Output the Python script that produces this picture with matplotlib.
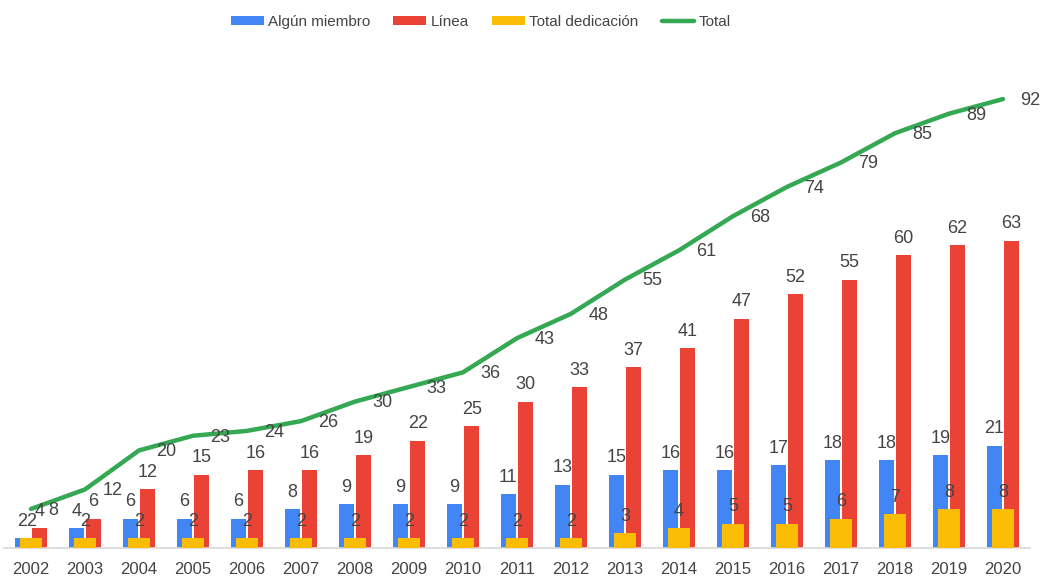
import matplotlib
matplotlib.use("Agg")
import matplotlib.pyplot as plt
import numpy as np

plt.rcParams['font.family'] = ['Liberation Sans', 'DejaVu Sans']

years = [str(y) for y in range(2002, 2021)]
algun_miembro = [2, 4, 6, 6, 6, 8, 9, 9, 9, 11, 13, 15, 16, 16, 17, 18, 18, 19, 21]
linea = [4, 6, 12, 15, 16, 16, 19, 22, 25, 30, 33, 37, 41, 47, 52, 55, 60, 62, 63]
total_dedicacion = [2, 2, 2, 2, 2, 2, 2, 2, 2, 2, 2, 3, 4, 5, 5, 6, 7, 8, 8]
total = [8, 12, 20, 23, 24, 26, 30, 33, 36, 43, 48, 55, 61, 68, 74, 79, 85, 89, 92]

c_blue = '#4285F4'
c_red = '#EA4335'
c_yellow = '#FBBC04'
c_green = '#34A853'
txt = '#444444'

W, H = 1042, 576
fig = plt.figure(figsize=(W / 100, H / 100), dpi=100)
ax = fig.add_axes([4 / W, 28 / H, 1026 / W, 488 / H])

x = np.arange(len(years))
bw = 0.265
off = 0.16
b1 = ax.bar(x - off, algun_miembro, bw, color=c_blue, label='Algún miembro', zorder=2)
b2 = ax.bar(x + off, linea, bw, color=c_red, label='Línea', zorder=2)
b3 = ax.bar(x, total_dedicacion, 0.41, color=c_yellow, label='Total dedicación', zorder=3)
ln, = ax.plot(x, total, color=c_green, lw=3.2, label='Total', zorder=4, solid_capstyle='round')

fs = 13
for bars, vals in ((b1, algun_miembro), (b2, linea), (b3, total_dedicacion)):
    for r, v in zip(bars, vals):
        ax.annotate(str(v), (r.get_x() + r.get_width() / 2, v), xytext=(0, 6),
                    textcoords='offset points', ha='center', va='bottom',
                    fontsize=fs, color=txt, zorder=5)
for xi, v in zip(x, total):
    ax.annotate(str(v), (xi, v), xytext=(12.5, -1), textcoords='offset points',
                ha='left', va='center', fontsize=fs, color=txt, zorder=5)

ax.set_xlim(-0.5, 18.5)
ax.set_ylim(0, 100)
ax.set_xticks(x)
ax.set_xticklabels(years, fontsize=12, color=txt)
ax.tick_params(axis='x', length=0, pad=10)
ax.set_yticks([])
for s in ('top', 'right', 'left'):
    ax.spines[s].set_visible(False)
ax.spines['bottom'].set_color('#d9d9d9')
ax.spines['bottom'].set_linewidth(1.2)

leg = fig.legend(handles=[b1, b2, b3, ln], loc='center', bbox_to_anchor=(481 / W, 1 - 22 / H),
                 ncol=4, frameon=False, fontsize=11, handlelength=2.15, handleheight=0.55,
                 handletextpad=0.3, columnspacing=1.5)
for t in leg.get_texts():
    t.set_color(txt)

fig.savefig('out.png', dpi=100)
